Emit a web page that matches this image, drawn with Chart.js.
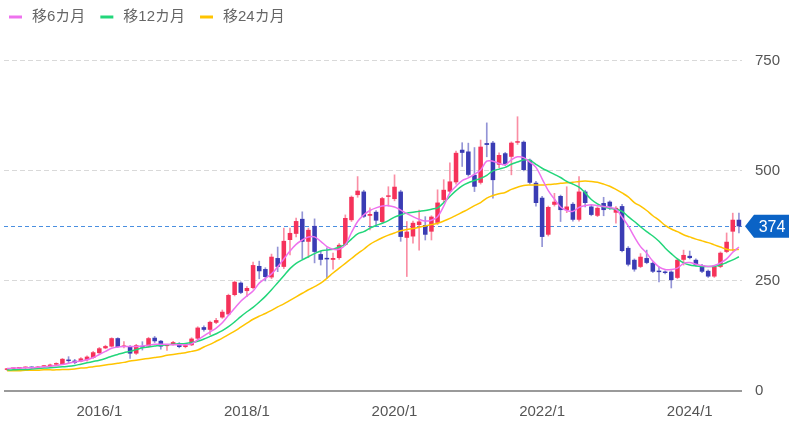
<!DOCTYPE html>
<html>
<head>
<meta charset="utf-8">
<script src="https://cdn.jsdelivr.net/npm/chart.js@4/dist/chart.umd.min.js"></script>
<style>
  html, body { margin: 0; padding: 0; background: #fff; }
  #wrap { width: 800px; height: 437px; }
</style>
</head>
<body>
<div id="wrap"><canvas id="c"></canvas></div>
<script>
const months = [
  "2014/10","2014/11","2014/12",
  "2015/1","2015/2","2015/3","2015/4","2015/5","2015/6","2015/7","2015/8","2015/9","2015/10","2015/11","2015/12",
  "2016/1","2016/2","2016/3","2016/4","2016/5","2016/6","2016/7","2016/8","2016/9","2016/10","2016/11","2016/12",
  "2017/1","2017/2","2017/3","2017/4","2017/5","2017/6","2017/7","2017/8","2017/9","2017/10","2017/11","2017/12",
  "2018/1","2018/2","2018/3","2018/4","2018/5","2018/6","2018/7","2018/8","2018/9","2018/10","2018/11","2018/12",
  "2019/1","2019/2","2019/3","2019/4","2019/5","2019/6","2019/7","2019/8","2019/9","2019/10","2019/11","2019/12",
  "2020/1","2020/2","2020/3","2020/4","2020/5","2020/6","2020/7","2020/8","2020/9","2020/10","2020/11","2020/12",
  "2021/1","2021/2","2021/3","2021/4","2021/5","2021/6","2021/7","2021/8","2021/9","2021/10","2021/11","2021/12",
  "2022/1","2022/2","2022/3","2022/4","2022/5","2022/6","2022/7","2022/8","2022/9","2022/10","2022/11","2022/12",
  "2023/1","2023/2","2023/3","2023/4","2023/5","2023/6","2023/7","2023/8","2023/9","2023/10","2023/11","2023/12",
  "2024/1","2024/2","2024/3","2024/4","2024/5","2024/6","2024/7","2024/8","2024/9"
];

const opens = [
  48,50,51,52,53,52,55,56,60,61,70,69,67,70,75,86,97,101,120,100,
  101,85,101,101,121,114,102,106,108,100,104,119,145,139,155,167,174,218,246,227,
  234,284,277,258,302,282,343,357,391,339,375,311,302,298,302,332,388,445,453,398,
  407,384,441,436,453,348,351,377,377,362,382,434,453,474,548,544,491,473,563,564,
  514,540,532,564,566,525,473,439,355,423,443,411,425,389,453,419,398,427,430,405,
  420,325,298,282,302,291,272,271,271,257,298,307,298,286,273,260,282,316,362,389
];
const highs = [
  51,52,53,55,55,56,58,61,64,74,78,72,76,80,90,99,104,121,121,112,
  103,106,112,122,124,115,106,113,110,106,121,146,148,159,165,184,220,250,248,237,
  293,295,280,311,327,370,370,393,407,370,391,318,325,313,335,400,443,487,456,416,
  410,440,464,491,456,385,386,411,396,398,457,480,518,545,564,563,553,570,609,567,
  541,542,566,623,568,527,476,442,420,449,445,464,428,487,456,422,418,440,432,419,
  424,328,300,312,320,293,282,273,273,300,320,318,300,288,275,284,316,359,404,404
];
const lows = [
  47,49,50,51,51,51,54,55,59,60,63,62,66,68,74,85,96,100,99,98,
  74,83,93,100,110,95,92,104,98,98,103,117,136,128,153,165,172,216,221,214,
  232,255,250,255,271,278,309,350,300,303,291,286,256,277,299,330,385,440,394,366,
  378,382,420,432,340,260,336,320,343,343,378,430,450,470,510,488,453,470,532,438,
  507,512,491,560,500,470,420,328,352,420,385,405,386,386,418,398,396,398,412,381,
  316,284,272,280,289,269,248,266,234,255,286,300,284,269,258,258,280,314,318,359
];
const closes = [
  50,51,52,53,52,55,56,60,62,73,68,64,74,78,88,97,102,120,100,103,
  85,104,99,120,113,101,104,111,100,104,119,144,139,157,161,180,218,248,223,234,
  286,272,259,305,282,341,359,386,339,366,316,298,299,302,332,393,441,455,396,402,
  387,438,444,464,350,362,382,385,355,396,428,457,476,541,541,491,464,555,559,479,
  536,515,564,567,502,473,427,350,418,430,411,419,389,453,427,400,416,411,419,416,
  318,287,276,305,291,271,270,268,252,298,309,302,286,271,260,282,314,339,389,374
];

const ma6 = [
  51,52,52,53,53,54,55,56,58,60,63,66,68,71,76,83,90,97,100,101,
  101,101,102,104,106,106,106,105,105,105,107,116,125,134,143,155,172,188,204,216,
  227,245,256,266,282,300,318,333,343,350,350,340,328,322,322,332,360,385,400,410,
  416,420,421,418,411,403,396,390,386,388,396,420,450,465,478,484,492,502,522,522,
  517,514,525,532,530,520,508,482,455,436,418,410,408,417,421,423,421,419,417,413,
  395,375,350,328,313,295,282,276,276,279,290,292,288,285,283,285,291,300,315,327
];
const ma12 = [
  48,48,49,49,50,51,52,53,54,55,56,58,61,64,67,70,74,79,83,87,
  90,94,98,100,102,104,105,106,107,108,110,113,118,124,130,137,146,157,169,180,
  190,202,215,230,246,262,278,290,298,305,312,318,320,322,327,333,345,357,362,370,
  376,381,387,395,400,404,406,408,410,413,416,428,442,455,466,473,478,483,490,500,
  504,508,515,520,525,524,515,506,499,492,485,476,470,463,450,435,425,418,415,413,
  408,396,385,373,362,352,340,325,312,300,291,286,284,283,283,283,286,292,298,305
];
const ma24 = [
  46,46,46,47,47,47,48,48,48,49,49,50,52,53,55,57,59,61,63,65,
  68,70,72,74,76,78,81,83,85,87,90,93,100,106,113,120,128,136,145,154,
  163,170,176,183,191,198,206,214,222,230,237,245,256,268,279,290,301,312,322,333,
  341,348,354,359,364,367,369,372,375,378,381,386,392,399,406,413,421,428,438,444,
  448,451,458,463,467,468,468,468,469,470,472,473,474,476,477,476,474,470,465,458,
  450,441,428,420,410,398,388,376,368,362,355,350,345,341,337,332,327,322,320,322
];

const yTicks = [0, 250, 500, 750];
const maLabels = ["移6カ月", "移12カ月", "移24カ月"];
const maColors = ["#ee72ee", "#22d67a", "#ffc400"];

const UP = "rgb(245,50,90)";
const DOWN = "rgb(58,60,180)";
const UP_WICK = "rgba(245,50,90,0.55)";
const DOWN_WICK = "rgba(58,60,180,0.55)";
const FONT = "'Liberation Sans', 'Noto Sans CJK JP', Arial, sans-serif";

const bodies = opens.map((o, i) => [Math.min(o, closes[i]), Math.max(o, closes[i])]);
const wicks = lows.map((l, i) => [l, highs[i]]);
const isUp = closes.map((c, i) => c >= opens[i]);

const legendPlugin = {
  id: "maLegend",
  afterDraw(chart) {
    const ctx = chart.ctx;
    ctx.save();
    ctx.font = "15px " + FONT;
    ctx.textBaseline = "middle";
    let x = 9;
    const y = 17;
    maLabels.forEach((lab, k) => {
      ctx.strokeStyle = maColors[k];
      ctx.lineWidth = 3;
      ctx.beginPath();
      ctx.moveTo(x, y);
      ctx.lineTo(x + 13, y);
      ctx.stroke();
      ctx.fillStyle = "#666";
      ctx.fillText(lab, x + 23, y);
      x += 23 + ctx.measureText(lab).width + 15;
    });
    ctx.restore();
  }
};

const lastPlugin = {
  id: "lastPrice",
  beforeDatasetsDraw(chart) {
    const { ctx, chartArea } = chart;
    const y = chart.scales.y.getPixelForValue(closes[closes.length - 1]);
    ctx.save();
    ctx.strokeStyle = "#4a8fe0";
    ctx.lineWidth = 1;
    ctx.setLineDash([4, 3]);
    ctx.beginPath();
    ctx.moveTo(chartArea.left, Math.round(y) + 0.5);
    ctx.lineTo(chartArea.right, Math.round(y) + 0.5);
    ctx.stroke();
    ctx.restore();
  },
  afterDraw(chart) {
    const { ctx, chartArea } = chart;
    const last = closes[closes.length - 1];
    const y = chart.scales.y.getPixelForValue(last);
    const x0 = chartArea.right + 3;
    const h = 23;
    ctx.save();
    ctx.fillStyle = "#0b63c6";
    ctx.beginPath();
    ctx.moveTo(x0, y);
    ctx.lineTo(x0 + 9, y - h / 2);
    ctx.lineTo(x0 + 44, y - h / 2);
    ctx.lineTo(x0 + 44, y + h / 2);
    ctx.lineTo(x0 + 9, y + h / 2);
    ctx.closePath();
    ctx.fill();
    ctx.fillStyle = "#fff";
    ctx.font = "16px " + FONT;
    ctx.textAlign = "center";
    ctx.textBaseline = "middle";
    ctx.fillText(String(last), x0 + 27, y + 1);
    ctx.restore();
  }
};

const lineSet = (label, data, color) => ({
  type: "line",
  label,
  data,
  borderColor: color,
  backgroundColor: color,
  borderWidth: 1.5,
  pointRadius: 0,
  tension: 0.35,
  order: 0
});

new Chart(document.getElementById("c"), {
  type: "bar",
  data: {
    labels: months,
    datasets: [
      lineSet(maLabels[0], ma6, maColors[0]),
      lineSet(maLabels[1], ma12, maColors[1]),
      lineSet(maLabels[2], ma24, maColors[2]),
      {
        label: "body",
        data: bodies,
        backgroundColor: isUp.map(u => (u ? UP : DOWN)),
        grouped: false,
        barPercentage: 0.74,
        categoryPercentage: 1,
        minBarLength: 1.5,
        order: 1
      },
      {
        label: "wick",
        data: wicks,
        backgroundColor: isUp.map(u => (u ? UP_WICK : DOWN_WICK)),
        grouped: false,
        barThickness: 1,
        order: 2
      }
    ]
  },
  options: {
    responsive: true,
    maintainAspectRatio: false,
    animation: false,
    layout: { padding: { top: 41, left: 4, right: 0, bottom: 0 } },
    plugins: { legend: { display: false }, tooltip: { enabled: false } },
    scales: {
      x: {
        type: "category",
        offset: true,
        grid: { display: false },
        border: { display: false },
        ticks: {
          autoSkip: false,
          maxRotation: 0,
          padding: 4,
          color: "#555",
          font: { family: FONT, size: 15 },
          callback(value) {
            const lab = this.getLabelForValue(value);
            const [yr, mo] = lab.split("/");
            return mo === "1" && Number(yr) % 2 === 0 ? lab : "";
          }
        },
        afterFit(scale) { scale.height = 46; }
      },
      y: {
        position: "right",
        min: 0,
        max: 795,
        afterBuildTicks(scale) { scale.ticks = yTicks.map(v => ({ value: v })); },
        grid: {
          color: c => (c.tick && c.tick.value === 0 ? "#9a9a9a" : "#d9d9d9"),
          lineWidth: c => (c.tick && c.tick.value === 0 ? 2 : 1),
          drawTicks: false
        },
        border: {
          display: true,
          color: "rgba(0,0,0,0)",
          width: 0,
          dash: c => (c.tick && c.tick.value === 0 ? [] : [5, 3])
        },
        ticks: {
          padding: 13,
          color: "#555",
          font: { family: FONT, size: 15 }
        },
        afterFit(scale) { scale.width = 58; }
      }
    }
  },
  plugins: [lastPlugin, legendPlugin]
});
</script>
</body>
</html>
